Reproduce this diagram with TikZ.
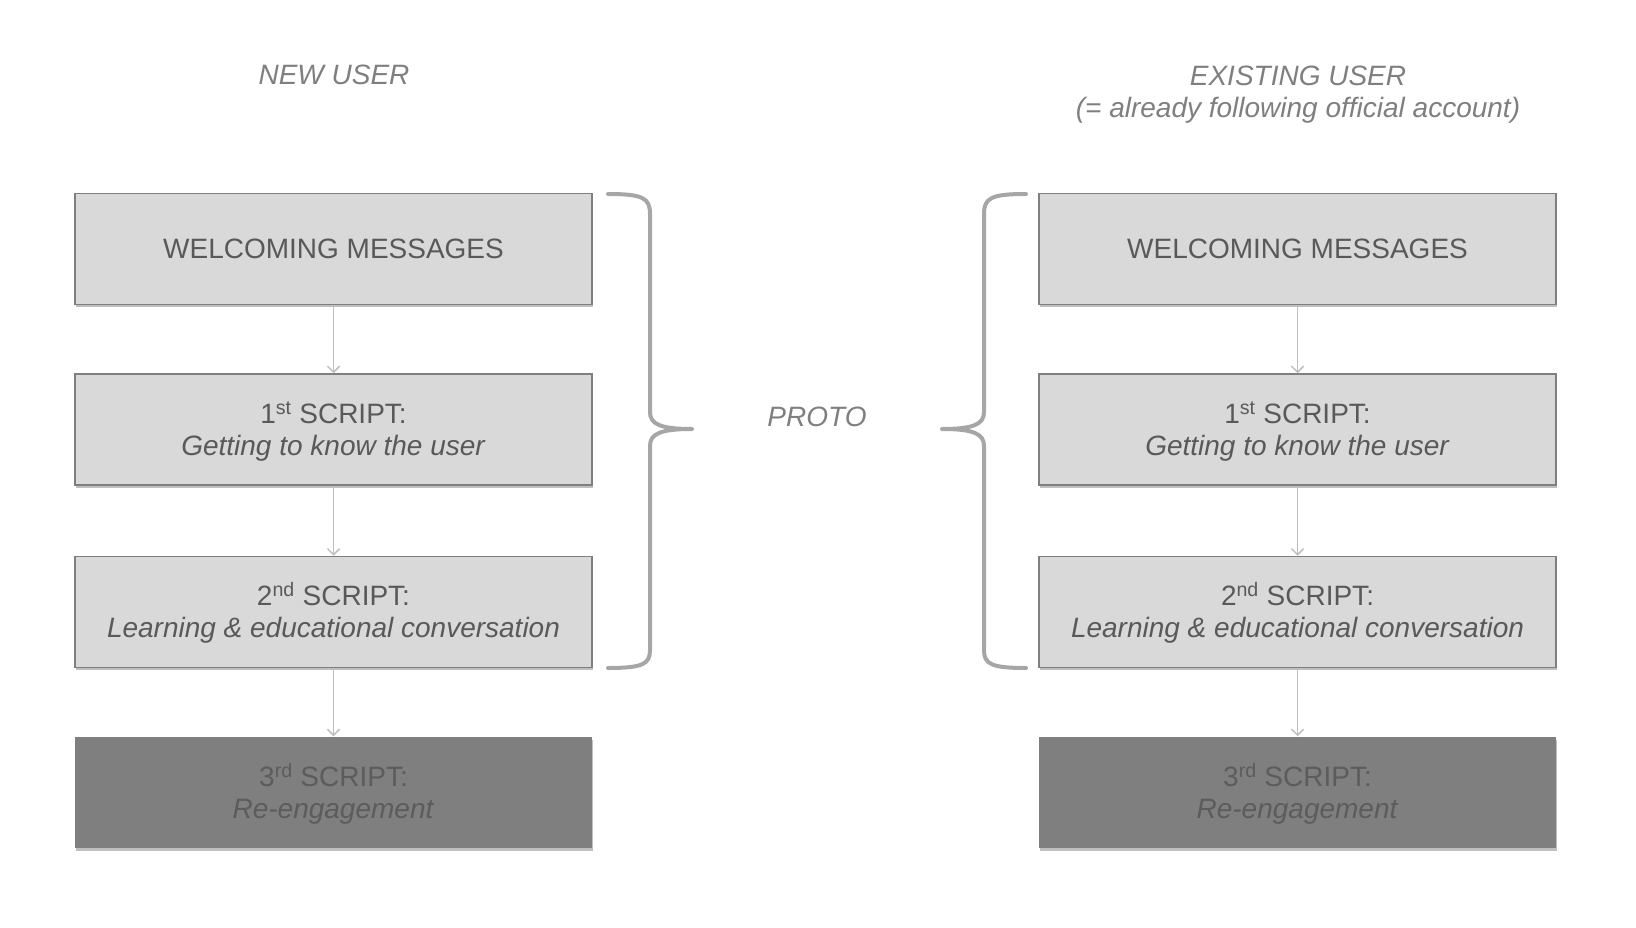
\documentclass[tikz,border=0pt]{standalone}
\usepackage{fontspec}
\setmainfont{Liberation Sans}
\usetikzlibrary{arrows.meta,shadows}
\definecolor{boxfill}{HTML}{D9D9D9}
\definecolor{boxline}{HTML}{7F7F7F}
\definecolor{boxtext}{HTML}{595959}
\definecolor{darkfill}{HTML}{7F7F7F}
\definecolor{darktext}{HTML}{5C5C5C}
\definecolor{headtext}{HTML}{7F7F7F}
\definecolor{arrowcol}{HTML}{BFBFBF}
\definecolor{bracecol}{HTML}{A6A6A6}
\newcommand{\supx}[1]{\smash{\textsuperscript{#1}}\rule{0pt}{25pt}}
\tikzset{
  box/.style={draw=boxline, fill=boxfill, line width=1.5pt,
    minimum width=517pt, minimum height=111pt, inner sep=0pt,
    text=boxtext, font=\fontsize{28}{32}\selectfont, align=center,
    drop shadow={shadow xshift=1pt, shadow yshift=-2.5pt, opacity=0.25, fill=black}},
  darkbox/.style={box, fill=darkfill, draw=none, text=darktext},
  heading/.style={text=headtext, font=\fontsize{28}{32}\selectfont\itshape, align=center, inner sep=0pt},
  conn/.style={draw=arrowcol, line width=1.5pt, -{Straight Barb[length=6pt,width=12pt,line width=1.5pt]}},
  bracepath/.style={draw=bracecol, line width=4pt, line cap=round, line join=round}
}
\begin{document}
\begin{tikzpicture}[x=1pt,y=-1pt]
\useasboundingbox (0,0) rectangle (1636,928);

% headings
\node[heading] (hnew) at (334,75) {NEW USER};
\node[heading] (hexist) at (1298,95) {EXISTING USER\\(= already following official account)};
\node[heading] (proto) at (817,417) {PROTO};

% left column
\node[box] (l1) at (333.5,249) {WELCOMING MESSAGES};
\node[box] (l2) at (333.5,429.5) {1\supx{st} SCRIPT:\\\textit{Getting to know the user}};
\node[box] (l3) at (333.5,612) {2\supx{nd} SCRIPT:\\\textit{Learning \& educational conversation}};
\node[darkbox] (l4) at (333.5,792.5) {3\supx{rd} SCRIPT:\\\textit{Re-engagement}};

% right column
\node[box] (r1) at (1297.5,249) {WELCOMING MESSAGES};
\node[box] (r2) at (1297.5,429.5) {1\supx{st} SCRIPT:\\\textit{Getting to know the user}};
\node[box] (r3) at (1297.5,612) {2\supx{nd} SCRIPT:\\\textit{Learning \& educational conversation}};
\node[darkbox] (r4) at (1297.5,792.5) {3\supx{rd} SCRIPT:\\\textit{Re-engagement}};

% connectors
\draw[conn] (l1.south) -- (l2.north);
\draw[conn] (l2.south) -- (l3.north);
\draw[conn] (l3.south) -- (l4.north);
\draw[conn] (r1.south) -- (r2.north);
\draw[conn] (r2.south) -- (r3.north);
\draw[conn] (r3.south) -- (r4.north);

% braces
\draw[bracepath] (608,194) .. controls (643,194) and (650,198) .. (650,214) -- (650,412)
  .. controls (650,424) and (660,429) .. (692,429)
  .. controls (660,429) and (650,434) .. (650,446) -- (650,650)
  .. controls (650,664) and (643,668) .. (608,668);
\draw[bracepath] (1026,194) .. controls (991,194) and (984,198) .. (984,214) -- (984,412)
  .. controls (984,424) and (974,429) .. (942,429)
  .. controls (974,429) and (984,434) .. (984,446) -- (984,650)
  .. controls (984,664) and (991,668) .. (1026,668);
\end{tikzpicture}
\end{document}
